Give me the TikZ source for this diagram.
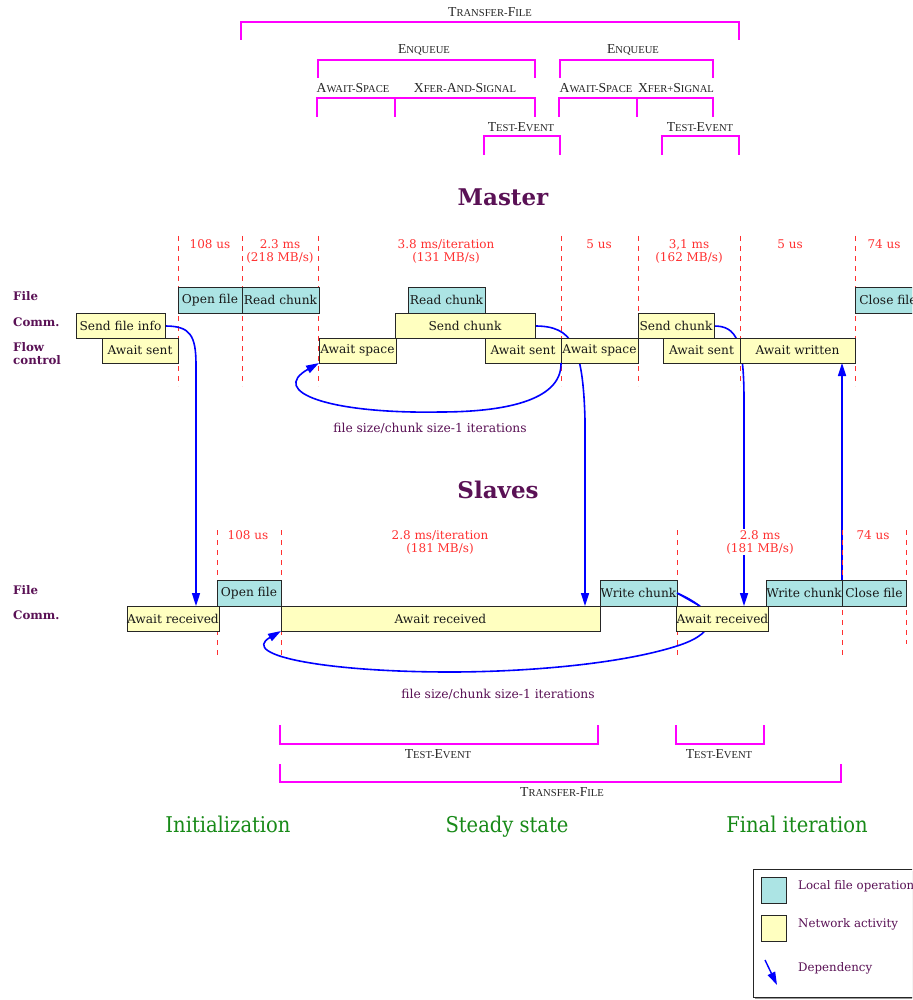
\documentclass[tikz,border=0pt]{standalone}
\usepackage{fontspec}
\setmainfont{DejaVu Serif}
\newfontfamily\condfont{DejaVu Serif Condensed}
\newfontfamily\tmsfont{Liberation Serif}
\usetikzlibrary{arrows.meta,shadows}
\definecolor{filecol}{HTML}{ACE4E4}
\definecolor{netcol}{HTML}{FFFFC0}
\definecolor{purp}{HTML}{5A1155}
\definecolor{tred}{HTML}{FF3030}
\definecolor{mag}{HTML}{FF00FF}
\definecolor{grn}{HTML}{188A18}
\definecolor{dblue}{HTML}{0000FF}
\newcommand\SCw[2]{{\fontsize{13.7}{14}\selectfont #1}{\fontsize{10.6}{11}\selectfont #2}}
\newcommand\bx[7]{\node[#1, minimum width={(#5)-(#3)}, minimum height={(#6)-(#4)}] (#2) at ({((#3)+(#5))/2},{((#4)+(#6))/2}) {#7};}
\tikzset{
  boxbase/.style={draw=black!85, line width=0.6pt, inner sep=0pt, outer sep=0pt,
    font=\fontsize{12.2}{13}\selectfont, text=black!90,
    general shadow={fill=black!45, shadow xshift=0.9pt, shadow yshift=-0.9pt}},
  fb/.style={boxbase, fill=filecol},
  nb/.style={boxbase, fill=netcol},
  brk/.style={draw=mag, line width=1.3pt},
  brklbl/.style={font=\tmsfont, text=black!85, inner sep=0pt},
  tim/.style={font=\fontsize{12}{13}\selectfont, text=tred, align=center, inner sep=0pt},
  dsh/.style={draw=tred, line width=0.8pt, dash pattern=on 5pt off 5pt},
  rowlbl/.style={font=\bfseries\fontsize{11.8}{13}\selectfont, text=purp, anchor=west, align=left, inner sep=0pt},
  title/.style={font=\bfseries\fontsize{23}{25}\selectfont, text=purp},
  phase/.style={font=\condfont\fontsize{21.7}{23}\selectfont, text=grn, anchor=base},
  dep/.style={draw=dblue, line width=1.6pt, -{Triangle[length=13pt,width=8pt]}},
  deparc/.style={draw=dblue, line width=1.6pt},
  note/.style={font=\fontsize{12.3}{13}\selectfont, text=purp, inner sep=0pt},
}
\begin{document}
\begin{tikzpicture}[x=1pt,y=-1pt]
\useasboundingbox (0,0) rectangle (912,1000);
\fill[white] (0,0) rectangle (912,1000);
\clip (0,0) rectangle (912,1000);

% ---------- top brackets ----------
\draw[brk] (241,40) -- (241,22) -- (739,22) -- (739,40);
\node[brklbl] (lTF) at (490,12) {\SCw{T}{RANSFER-}\SCw{F}{ILE}};
\draw[brk] (318,78) -- (318,60) -- (535,60) -- (535,78);
\node[brklbl] (lEQ1) at (424,50) {\SCw{E}{NQUEUE}};
\draw[brk] (560,78) -- (560,60) -- (713,60) -- (713,78);
\node[brklbl] (lEQ2) at (633,50) {\SCw{E}{NQUEUE}};
\draw[brk] (317,117) -- (317,98) -- (535,98) -- (535,117);
\draw[brk] (395,117) -- (395,98);
\node[brklbl] (lAS1) at (353,88) {\SCw{A}{WAIT-}\SCw{S}{PACE}};
\node[brklbl] (lXS1) at (465,88) {\SCw{X}{FER-}\SCw{A}{ND-}\SCw{S}{IGNAL}};
\draw[brk] (559,117) -- (559,98) -- (713,98) -- (713,117);
\draw[brk] (637,117) -- (637,98);
\node[brklbl] (lAS2) at (596,88) {\SCw{A}{WAIT-}\SCw{S}{PACE}};
\node[brklbl] (lXS2) at (676,88) {\SCw{X}{FER+}\SCw{S}{IGNAL}};
\draw[brk] (484,155) -- (484,136) -- (560,136) -- (560,155);
\node[brklbl] (lTE1) at (521,127) {\SCw{T}{EST-}\SCw{E}{VENT}};
\draw[brk] (662,155) -- (662,136) -- (739,136) -- (739,155);
\node[brklbl] (lTE2) at (700,127) {\SCw{T}{EST-}\SCw{E}{VENT}};

% ---------- Master ----------
\node[title] (master) at (503,197) {Master};
\foreach \x in {178,242,318,561,638,740,855} \draw[dsh] (\x,236) -- (\x,386);
\node[tim] (t1) at (210,244.5) {108 us};
\node[tim] (t2) at (280,251) {2.3 ms\\(218 MB/s)};
\node[tim] (t3) at (446,251) {3.8 ms/iteration\\(131 MB/s)};
\node[tim] (t4) at (599,244.5) {5 us};
\node[tim] (t5) at (689,251) {3,1 ms\\(162 MB/s)};
\node[tim] (t6) at (790,244.5) {5 us};
\node[tim] (t7) at (884,244.5) {74 us};

\node[rowlbl] (rF) at (13,296) {File};
\node[rowlbl] (rC) at (13,322) {Comm.};
\node[rowlbl] (rFC) at (13,353.5) {Flow\\[0pt]control};

% dependency arcs (behind boxes)
\draw[dep] (165,326) .. controls (190,326) and (196,335) .. (196,365) -- (196,606);
\draw[dep] (535,326) .. controls (572,326) and (583,345) .. (585,420) -- (585,606);
\draw[dep] (714,326) .. controls (736,326) and (744,340) .. (744,400) -- (744,606);
\draw[dep] (842,580) -- (842,363);

\bx{fb}{mOpen}{178}{287}{242}{313}{Open file}
\bx{fb}{mRead1}{242}{287}{319}{313}{Read chunk}
\bx{fb}{mRead2}{408}{287}{485}{313}{Read chunk}
\bx{fb}{mClose}{855}{287}{921}{313}{Close file}
\bx{nb}{mSendInfo}{76}{313}{165}{338}{Send file info}
\bx{nb}{mSent1}{102}{338}{178}{363}{Await sent}
\bx{nb}{mSend1}{395}{313}{535}{338}{Send chunk}
\bx{nb}{mSpace1}{319}{338}{396}{363}{Await space}
\bx{nb}{mSent2}{485}{338}{561}{363}{Await sent}
\bx{nb}{mSpace2}{561}{338}{638}{363}{Await space}
\bx{nb}{mSend2}{638}{313}{714}{338}{Send chunk}
\bx{nb}{mSent3}{663}{338}{740}{363}{Await sent}
\bx{nb}{mWritten}{740}{338}{855}{363}{Await written}

\draw[dep] (mSent2.south east) .. controls (562,402) and (500,412) .. (440,412)
   .. controls (330,414) and (268,392) .. (mSpace1.south west);
\node[note] (loop1) at (430,428) {file size/chunk size-1 iterations};

% ---------- Slaves ----------
\node[title] (slaves) at (498,490) {Slaves};
\foreach \x in {217,281,677,842} \draw[dsh] (\x,530) -- (\x,656);
\draw[dsh] (906,530) -- (906,644);
\node[tim] (s1) at (248,535.5) {108 us};
\node[tim] (s2) at (440,542) {2.8 ms/iteration\\(181 MB/s)};
\node[tim, fill=white, inner sep=1pt] (s3) at (760,542) {2.8 ms\\(181 MB/s)};
\node[tim] (s4) at (873,535.5) {74 us};

\node[rowlbl] (srF) at (13,590) {File};
\node[rowlbl] (srC) at (13,615) {Comm.};

\draw[deparc] (677,593) .. controls (720,612) and (718,632) .. (680,645)
   .. controls (620,665) and (520,672) .. (450,672);

\bx{fb}{sOpen}{217}{580}{281}{606}{Open file}
\bx{nb}{sRecv1}{127}{606}{219}{631}{Await received}
\bx{nb}{sRecv2}{281}{606}{600}{631}{Await received}
\bx{fb}{sWrite1}{600}{580}{677}{606}{Write chunk}
\bx{nb}{sRecv3}{677}{606}{768}{631}{Await received}
\bx{fb}{sWrite2}{766}{580}{842}{606}{Write chunk}
\bx{fb}{sClose}{842}{580}{906}{606}{Close file}

\draw[deparc] (sWrite1.east) -- (700,606);
\draw[dep] (450,672) .. controls (330,672) and (238,656) .. (sRecv2.south west);
\node[note] (loop2) at (498,694) {file size/chunk size-1 iterations};

% ---------- bottom brackets ----------
\draw[brk] (280,725) -- (280,744) -- (598,744) -- (598,725);
\node[brklbl] (bTE1) at (438,754) {\SCw{T}{EST-}\SCw{E}{VENT}};
\draw[brk] (676,725) -- (676,744) -- (764,744) -- (764,725);
\node[brklbl] (bTE2) at (719,754) {\SCw{T}{EST-}\SCw{E}{VENT}};
\draw[brk] (280,764) -- (280,782) -- (841,782) -- (841,764);
\node[brklbl] (bTF) at (562,792) {\SCw{T}{RANSFER-}\SCw{F}{ILE}};

\node[phase] (ph1) at (228,832) {Initialization};
\node[phase] (ph2) at (507,832) {Steady state};
\node[phase] (ph3) at (797,832) {Final iteration};

% ---------- legend ----------
\node[draw=black!85, line width=0.8pt, fill=white, minimum width=180pt, minimum height=128pt,
  inner sep=0pt, general shadow={fill=black!40, shadow xshift=2pt, shadow yshift=-2pt}]
  (legend) at (843,933) {};
\node[fb, minimum width=25pt, minimum height=26pt] (lg1) at (773.5,890) {};
\node[nb, minimum width=25pt, minimum height=26pt] (lg2) at (773.5,928) {};
\coordinate (lg3a) at (765,960);
\coordinate (lg3b) at (777,985);
\draw[dep, line width=1.4pt] (lg3a) -- (lg3b);
\node[note, anchor=west, font=\fontsize{11.8}{13}\selectfont] (lt1) at (798,886) {Local file operation};
\node[note, anchor=west, font=\fontsize{11.8}{13}\selectfont] (lt2) at (798,924) {Network activity};
\node[note, anchor=west, font=\fontsize{11.8}{13}\selectfont] (lt3) at (798,968) {Dependency};
\end{tikzpicture}
\end{document}
